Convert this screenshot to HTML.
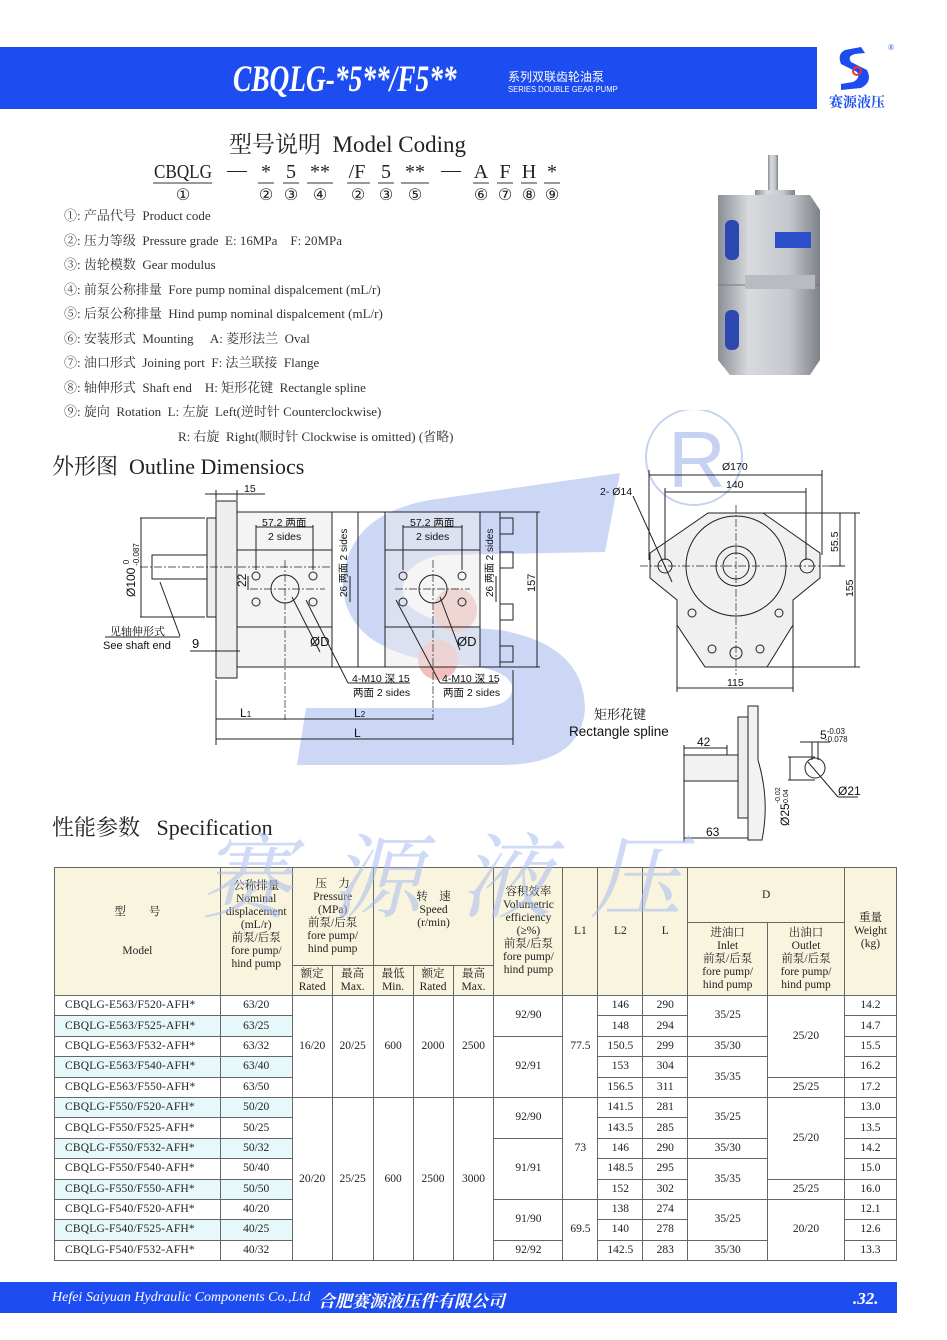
<!DOCTYPE html>
<html><head><meta charset="utf-8">
<style>
*{margin:0;padding:0;box-sizing:border-box}
body{width:947px;height:1340px;background:#fff;position:relative;overflow:hidden;font-family:"Liberation Serif","Noto Serif CJK SC",serif;color:#222}
.abs{position:absolute;white-space:nowrap}
table{position:absolute;left:54px;top:867px;width:843px;border-collapse:collapse;font-size:11.5px;font-family:"Liberation Serif","Noto Serif CJK SC",serif}
td{border:1px solid #666;text-align:center;vertical-align:middle;line-height:13px;padding:0}
thead td{background:#f8f4de;font-size:11.5px}
tbody td{height:20.4px}
tbody tr.c td.m,tbody tr.c td.v{background:#e6f8fa}
td.m{text-align:left;padding-left:10px;letter-spacing:0.2px}
</style></head><body>

<div class="abs" style="left:0;top:47px;width:817px;height:62px;background:#1d4cf0"></div>
<div class="abs" style="left:233px;top:58px;font-size:37px;font-style:italic;font-weight:bold;color:#fff;transform:scaleX(0.74);transform-origin:left;font-family:'Liberation Serif',serif">CBQLG-*5**/F5**</div>
<div class="abs" style="left:508px;top:68px;font-size:12px;color:#fff;font-family:'Liberation Sans','Noto Sans CJK SC',sans-serif">系列双联齿轮油泵</div>
<div class="abs" style="left:508px;top:84px;font-size:8.5px;color:#fff;font-family:'Liberation Sans',sans-serif;transform:scaleX(0.9);transform-origin:left">SERIES DOUBLE GEAR PUMP</div>
<svg class="abs" style="left:817px;top:40px" width="90" height="75">
<path d="M44 7 L28 10 Q20 14 24 24 L40 32 Q44 38 36 42 L24 44 L24 50 L44 48 Q56 42 50 30 L34 22 Q30 16 38 14 L48 13 Z" fill="#1d4cf0"/>
<circle cx="40" cy="31" r="4" fill="none" stroke="#e33" stroke-width="2"/>
<text x="71" y="10" font-size="8" fill="#1d4cf0">®</text>
<text x="12" y="67" font-size="14" fill="#1d4cf0" font-family="'Noto Serif CJK SC',serif" font-weight="bold">赛源液压</text>
</svg>

<div class="abs" style="left:229px;top:126px;font-size:23px">型号说明&nbsp;&nbsp;Model Coding</div>
<svg class="abs" style="left:0;top:150px" width="600" height="55" font-family="'Liberation Serif',serif" font-size="20" text-anchor="middle" fill="#222">
<g>
<text x="183" y="28" textLength="58" lengthAdjust="spacingAndGlyphs">CBQLG</text><text x="237" y="26">—</text><text x="266" y="28">*</text><text x="291" y="28">5</text><text x="320" y="28">**</text><text x="357" y="28">/F</text><text x="386" y="28">5</text><text x="415" y="28">**</text><text x="451" y="26">—</text><text x="481" y="28">A</text><text x="505" y="28">F</text><text x="529" y="28">H</text><text x="552" y="28">*</text>
</g>
<g stroke="#333" stroke-width="1">
<line x1="153" y1="33" x2="212" y2="33"/><line x1="258" y1="33" x2="274" y2="33"/><line x1="283" y1="33" x2="299" y2="33"/><line x1="307" y1="33" x2="333" y2="33"/><line x1="347" y1="33" x2="370" y2="33"/><line x1="378" y1="33" x2="394" y2="33"/><line x1="401" y1="33" x2="429" y2="33"/><line x1="473" y1="33" x2="489" y2="33"/><line x1="497" y1="33" x2="513" y2="33"/><line x1="521" y1="33" x2="537" y2="33"/><line x1="544" y1="33" x2="560" y2="33"/>
</g>
<g font-size="16"><text x="183" y="50">①</text><text x="266" y="50">②</text><text x="291" y="50">③</text><text x="320" y="50">④</text><text x="358" y="50">②</text><text x="386" y="50">③</text><text x="415" y="50">⑤</text><text x="481" y="50">⑥</text><text x="505" y="50">⑦</text><text x="529" y="50">⑧</text><text x="552" y="50">⑨</text></g>
</svg>
<div style="position:absolute;left:64px;top:204px;font-size:13px;line-height:24.5px;color:#333">
<div>①:&nbsp;产品代号&nbsp;&nbsp;Product code</div>
<div>②:&nbsp;压力等级&nbsp;&nbsp;Pressure grade&nbsp;&nbsp;E: 16MPa&nbsp;&nbsp;&nbsp;&nbsp;F: 20MPa</div>
<div>③:&nbsp;齿轮模数&nbsp;&nbsp;Gear modulus</div>
<div>④:&nbsp;前泵公称排量&nbsp;&nbsp;Fore pump nominal dispalcement (mL/r)</div>
<div>⑤:&nbsp;后泵公称排量&nbsp;&nbsp;Hind pump nominal dispalcement (mL/r)</div>
<div>⑥:&nbsp;安装形式&nbsp;&nbsp;Mounting&nbsp;&nbsp;&nbsp;&nbsp;&nbsp;A:&nbsp;菱形法兰&nbsp;&nbsp;Oval</div>
<div>⑦:&nbsp;油口形式&nbsp;&nbsp;Joining port&nbsp;&nbsp;F:&nbsp;法兰联接&nbsp;&nbsp;Flange</div>
<div>⑧:&nbsp;轴伸形式&nbsp;&nbsp;Shaft end&nbsp;&nbsp;&nbsp;&nbsp;H:&nbsp;矩形花键&nbsp;&nbsp;Rectangle spline</div>
<div>⑨:&nbsp;旋向&nbsp;&nbsp;Rotation&nbsp;&nbsp;L:&nbsp;左旋&nbsp;&nbsp;Left(逆时针 Counterclockwise)</div>
<div style="padding-left:114px">R:&nbsp;右旋&nbsp;&nbsp;Right(顺时针 Clockwise is omitted) (省略)</div>
</div>

<svg class="abs" style="left:700px;top:150px" width="140" height="240">
<defs><linearGradient id="g1" x1="0" x2="1"><stop offset="0" stop-color="#8a8f96"/><stop offset="0.3" stop-color="#d8dade"/><stop offset="0.7" stop-color="#c4c7cc"/><stop offset="1" stop-color="#7d8288"/></linearGradient></defs>
<rect x="68" y="5" width="10" height="40" fill="url(#g1)"/>
<rect x="55" y="40" width="40" height="12" fill="url(#g1)"/>
<path d="M18 45 L110 45 L120 60 L120 210 L110 225 L30 225 L18 210 Z" fill="url(#g1)"/>
<rect x="25" y="70" width="14" height="40" rx="6" fill="#2c48b0"/>
<rect x="25" y="160" width="14" height="40" rx="6" fill="#2c48b0"/>
<rect x="75" y="82" width="36" height="16" fill="#2a4fc8"/>
<line x1="18" y1="135" x2="120" y2="135" stroke="#777"/>
<rect x="45" y="125" width="70" height="14" fill="#b8bbc0"/>
</svg>

<svg class="abs" style="left:640px;top:410px" width="110" height="100"><circle cx="54" cy="47" r="48" fill="none" stroke="#c7d2f2" stroke-width="2"/><text x="28" y="77" font-size="80" fill="#c7d2f2" font-family="'Liberation Sans',sans-serif">R</text></svg>

<div class="abs" style="left:52px;top:450px;font-size:22px">外形图&nbsp;&nbsp;Outline Dimensiocs</div>

<svg class="abs" style="left:0;top:0" width="947" height="1340">
<path d="M620 473 L605 552 L440 555 Q395 565 405 600 Q420 625 500 630 Q585 645 585 710 Q580 765 500 765 L297 765 L306 708 L480 708 Q515 705 512 685 Q505 668 460 665 Q345 655 343 585 Q345 515 430 500 Z" fill="#c3d0f5" opacity="0.85"/>
<g fill="#f3b3b3" opacity="0.85"><circle cx="455" cy="610" r="22"/><circle cx="438" cy="660" r="20"/></g>
</svg>

<svg class="abs" style="left:0;top:0" width="947" height="1340" font-family="'Liberation Sans','Noto Sans CJK SC',sans-serif" font-size="10.5" fill="#111">
<g stroke="#222" stroke-width="1" fill="none">
<rect x="216" y="501" width="21" height="177" fill="#eee"/>
<rect x="207" y="518" width="9" height="99" fill="#eee"/>
<rect x="152" y="555" width="55" height="24" fill="#fff"/>
<rect x="237" y="512" width="95" height="155" fill="#ececec" fill-opacity="0.6"/>
<line x1="237" y1="550" x2="332" y2="550"/><line x1="237" y1="627" x2="332" y2="627"/>
<rect x="332" y="512" width="26" height="155"/><rect x="358" y="512" width="27" height="155"/>
<rect x="385" y="512" width="95" height="155" fill="#ececec" fill-opacity="0.5"/>
<line x1="385" y1="550" x2="480" y2="550"/><line x1="385" y1="627" x2="480" y2="627"/>
<rect x="480" y="512" width="20" height="155"/>
<rect x="500" y="518" width="13" height="16"/><rect x="500" y="552" width="13" height="16"/><rect x="500" y="604" width="13" height="16"/><rect x="500" y="646" width="13" height="16"/>
<circle cx="285" cy="589" r="14"/><circle cx="433" cy="589" r="14"/>
<circle cx="256" cy="576" r="4"/><circle cx="313" cy="576" r="4"/><circle cx="256" cy="602" r="4"/><circle cx="313" cy="602" r="4"/>
<circle cx="403" cy="576" r="4"/><circle cx="462" cy="576" r="4"/><circle cx="403" cy="602" r="4"/><circle cx="462" cy="602" r="4"/>
<g stroke-dasharray="8 2 2 2" stroke-width="0.7"><line x1="140" y1="567" x2="330" y2="567"/><line x1="285" y1="560" x2="285" y2="720"/><line x1="433" y1="560" x2="433" y2="720"/><line x1="250" y1="589" x2="325" y2="589"/><line x1="395" y1="589" x2="470" y2="589"/></g>
<line x1="256" y1="525" x2="256" y2="570"/><line x1="313" y1="525" x2="313" y2="570"/><line x1="256" y1="527" x2="313" y2="527"/>
<line x1="403" y1="525" x2="403" y2="570"/><line x1="462" y1="525" x2="462" y2="570"/><line x1="403" y1="527" x2="462" y2="527"/>
<line x1="140" y1="518" x2="205" y2="518"/><line x1="140" y1="617" x2="205" y2="617"/><line x1="141" y1="518" x2="141" y2="617"/>
<line x1="216" y1="490" x2="216" y2="500"/><line x1="237" y1="490" x2="237" y2="500"/><line x1="205" y1="494" x2="265" y2="494"/>
<line x1="190" y1="651" x2="240" y2="651"/>
<line x1="216" y1="680" x2="216" y2="745"/><line x1="513" y1="670" x2="513" y2="745"/>
<line x1="216" y1="719" x2="285" y2="719"/><line x1="285" y1="719" x2="433" y2="719"/><line x1="216" y1="739" x2="513" y2="739"/>
<line x1="537" y1="512" x2="537" y2="667"/><line x1="500" y1="512" x2="540" y2="512"/><line x1="500" y1="667" x2="540" y2="667"/>
<line x1="292" y1="597" x2="320" y2="652"/><line x1="306" y1="600" x2="348" y2="683"/><line x1="348" y1="683" x2="410" y2="683"/>
<line x1="440" y1="597" x2="460" y2="650"/><line x1="396" y1="600" x2="440" y2="683"/><line x1="440" y1="683" x2="498" y2="683"/>
<line x1="160" y1="582" x2="180" y2="636"/><line x1="105" y1="637" x2="180" y2="637"/>
<line x1="248" y1="576" x2="248" y2="590"/><line x1="350" y1="576" x2="350" y2="602"/><line x1="496" y1="576" x2="496" y2="602"/>
</g>
<text x="244" y="492">15</text>
<text x="262" y="526">57.2 两面</text><text x="268" y="540">2 sides</text>
<text x="410" y="526">57.2 两面</text><text x="416" y="540">2 sides</text>
<text transform="translate(135,597) rotate(-90)" font-size="12">Ø100 <tspan font-size="8" dy="-6">0</tspan><tspan font-size="8" dx="-6" dy="10">-0.087</tspan></text>
<text transform="translate(246,587) rotate(-90)" font-size="12">22</text>
<text transform="translate(347,597) rotate(-90)" font-size="10">26 两面 2 sides</text>
<text transform="translate(493,597) rotate(-90)" font-size="10">26 两面 2 sides</text>
<text transform="translate(535,592) rotate(-90)" font-size="11">157</text>
<text x="110" y="635" font-size="11" font-family="'Liberation Serif','Noto Serif CJK SC',serif">见轴伸形式</text>
<text x="103" y="649" font-size="11">See shaft end</text>
<text x="192" y="648" font-size="13">9</text>
<text x="310" y="646" font-size="13">ØD</text><text x="457" y="646" font-size="13">ØD</text>
<text x="352" y="682">4-M10 深 15</text><text x="353" y="696">两面 2 sides</text>
<text x="442" y="682">4-M10 深 15</text><text x="443" y="696">两面 2 sides</text>
<text x="240" y="717" font-size="12">L<tspan font-size="8">1</tspan></text><text x="354" y="717" font-size="12">L<tspan font-size="8">2</tspan></text><text x="354" y="737" font-size="12">L</text>

<g stroke="#222" stroke-width="1" fill="none">
<path d="M708 513 L763 513 L820 553 L820 578 L793 600 L793 625 L767 667 L705 667 L677 625 L677 600 L650 578 L650 553 Z" fill="#f0f0f0"/>
<circle cx="736" cy="566" r="50"/><circle cx="736" cy="566" r="20"/><circle cx="736" cy="566" r="13"/>
<circle cx="665" cy="566" r="7"/><circle cx="807" cy="566" r="7"/>
<circle cx="692" cy="613" r="4"/><circle cx="779" cy="613" r="4"/><circle cx="712" cy="649" r="4"/><circle cx="760" cy="649" r="4"/><circle cx="736" cy="653" r="6"/>
<g stroke-dasharray="8 2 2 2" stroke-width="0.7"><line x1="640" y1="566" x2="835" y2="566"/><line x1="736" y1="505" x2="736" y2="675"/></g>
<line x1="649" y1="470" x2="649" y2="560"/><line x1="822" y1="470" x2="822" y2="555"/><line x1="649" y1="475" x2="822" y2="475"/>
<line x1="665" y1="488" x2="665" y2="560"/><line x1="806" y1="488" x2="806" y2="560"/><line x1="665" y1="492" x2="806" y2="492"/>
<line x1="763" y1="513" x2="860" y2="513"/><line x1="830" y1="566" x2="845" y2="566"/><line x1="840" y1="513" x2="840" y2="566"/>
<line x1="767" y1="667" x2="860" y2="667"/><line x1="855" y1="513" x2="855" y2="667"/>
<line x1="677" y1="625" x2="677" y2="692"/><line x1="793" y1="625" x2="793" y2="692"/><line x1="677" y1="688" x2="793" y2="688"/>
<line x1="633" y1="496" x2="672" y2="582"/>
</g>
<text x="722" y="470">Ø170</text><text x="726" y="488">140</text><text x="600" y="495">2- Ø14</text>
<text transform="translate(838,552) rotate(-90)">55.5</text><text transform="translate(853,597) rotate(-90)">155</text>
<text x="727" y="686">115</text>

<g stroke="#222" stroke-width="1" fill="none">
<rect x="684" y="755" width="54" height="26" fill="#f2f2f2"/>
<rect x="738" y="717" width="10" height="101" fill="#eee"/>
<path d="M748 706 L758 706 L758 760 Q770 800 762 840 L748 840 Z" fill="#f2f2f2"/>
<line x1="684" y1="745" x2="684" y2="842"/><line x1="727" y1="745" x2="727" y2="755"/><line x1="684" y1="748" x2="727" y2="748"/><line x1="684" y1="838" x2="748" y2="838"/>
<circle cx="815" cy="768" r="10"/>
<line x1="788" y1="757" x2="815" y2="757"/><line x1="788" y1="780" x2="815" y2="780"/><line x1="790" y1="757" x2="790" y2="780"/>
<line x1="800" y1="742" x2="830" y2="742"/><line x1="812" y1="742" x2="812" y2="760"/><line x1="818" y1="742" x2="818" y2="760"/>
<line x1="808" y1="762" x2="838" y2="797"/><line x1="838" y1="797" x2="858" y2="797"/>
</g>
<text x="594" y="719" font-size="13" font-family="'Liberation Serif','Noto Serif CJK SC',serif">矩形花键</text>
<text x="569" y="736" font-size="13.5">Rectangle spline</text>
<text x="697" y="746" font-size="12">42</text><text x="706" y="836" font-size="12">63</text>
<text x="820" y="739" font-size="12">5<tspan font-size="8" dy="-5">-0.03</tspan><tspan font-size="8" dx="-20" dy="8">-0.078</tspan></text>
<text x="838" y="795" font-size="12">Ø21</text>
<text transform="translate(789,826) rotate(-90)" font-size="12">Ø25<tspan font-size="7" dy="-9">-0.02</tspan><tspan font-size="7" dx="-18" dy="8">-0.04</tspan></text>
</svg>

<div class="abs" style="left:52px;top:811px;font-size:22px">性能参数&nbsp;&nbsp;&nbsp;Specification</div>

<table>
<colgroup><col style="width:166px"><col style="width:72px"><col style="width:40px"><col style="width:41px"><col style="width:40px"><col style="width:40px"><col style="width:41px"><col style="width:69px"><col style="width:35px"><col style="width:45px"><col style="width:45px"><col style="width:80px"><col style="width:77px"><col style="width:52px"></colgroup>
<thead>
<tr style="height:55px"><td rowspan="3">型&nbsp;&nbsp;&nbsp;&nbsp;&nbsp;&nbsp;&nbsp;&nbsp;号<br><br><br>Model</td><td rowspan="3">公称排量<br>Nominal<br>displacement<br>(mL/r)<br>前泵/后泵<br>fore pump/<br>hind pump<br><br></td><td colspan="2" rowspan="2">压&nbsp;&nbsp;&nbsp;&nbsp;力<br>Pressure<br>(MPa)<br>前泵/后泵<br>fore pump/<br>hind pump</td><td colspan="3" rowspan="2">转&nbsp;&nbsp;&nbsp;&nbsp;速<br>Speed<br>(r/min)<br><br></td><td rowspan="3">容积效率<br>Volumetric<br>efficiency<br>(≥%)<br>前泵/后泵<br>fore pump/<br>hind pump</td><td rowspan="3">L1</td><td rowspan="3">L2</td><td rowspan="3">L</td><td colspan="2">D</td><td rowspan="3">重量<br>Weight<br>(kg)</td></tr>
<tr style="height:43px"><td rowspan="2">进油口<br>Inlet<br>前泵/后泵<br>fore pump/<br>hind pump</td><td rowspan="2">出油口<br>Outlet<br>前泵/后泵<br>fore pump/<br>hind pump</td></tr>
<tr style="height:30px"><td>额定<br>Rated</td><td>最高<br>Max.</td><td>最低<br>Min.</td><td>额定<br>Rated</td><td>最高<br>Max.</td></tr>
</thead>
<tbody>
<tr><td class="m">CBQLG-E563/F520-AFH*</td><td class="v">63/20</td><td rowspan="5">16/20</td><td rowspan="5">20/25</td><td rowspan="5">600</td><td rowspan="5">2000</td><td rowspan="5">2500</td><td rowspan="2">92/90</td><td rowspan="5">77.5</td><td>146</td><td>290</td><td rowspan="2">35/25</td><td rowspan="4">25/20</td><td>14.2</td></tr>
<tr class="c"><td class="m">CBQLG-E563/F525-AFH*</td><td class="v">63/25</td><td>148</td><td>294</td><td>14.7</td></tr>
<tr><td class="m">CBQLG-E563/F532-AFH*</td><td class="v">63/32</td><td rowspan="3">92/91</td><td>150.5</td><td>299</td><td>35/30</td><td>15.5</td></tr>
<tr class="c"><td class="m">CBQLG-E563/F540-AFH*</td><td class="v">63/40</td><td>153</td><td>304</td><td rowspan="2">35/35</td><td>16.2</td></tr>
<tr><td class="m">CBQLG-E563/F550-AFH*</td><td class="v">63/50</td><td>156.5</td><td>311</td><td>25/25</td><td>17.2</td></tr>
<tr class="c"><td class="m">CBQLG-F550/F520-AFH*</td><td class="v">50/20</td><td rowspan="8">20/20</td><td rowspan="8">25/25</td><td rowspan="8">600</td><td rowspan="8">2500</td><td rowspan="8">3000</td><td rowspan="2">92/90</td><td rowspan="5">73</td><td>141.5</td><td>281</td><td rowspan="2">35/25</td><td rowspan="4">25/20</td><td>13.0</td></tr>
<tr><td class="m">CBQLG-F550/F525-AFH*</td><td class="v">50/25</td><td>143.5</td><td>285</td><td>13.5</td></tr>
<tr class="c"><td class="m">CBQLG-F550/F532-AFH*</td><td class="v">50/32</td><td rowspan="3">91/91</td><td>146</td><td>290</td><td>35/30</td><td>14.2</td></tr>
<tr><td class="m">CBQLG-F550/F540-AFH*</td><td class="v">50/40</td><td>148.5</td><td>295</td><td rowspan="2">35/35</td><td>15.0</td></tr>
<tr class="c"><td class="m">CBQLG-F550/F550-AFH*</td><td class="v">50/50</td><td>152</td><td>302</td><td>25/25</td><td>16.0</td></tr>
<tr><td class="m">CBQLG-F540/F520-AFH*</td><td class="v">40/20</td><td rowspan="2">91/90</td><td rowspan="3">69.5</td><td>138</td><td>274</td><td rowspan="2">35/25</td><td rowspan="3">20/20</td><td>12.1</td></tr>
<tr class="c"><td class="m">CBQLG-F540/F525-AFH*</td><td class="v">40/25</td><td>140</td><td>278</td><td>12.6</td></tr>
<tr><td class="m">CBQLG-F540/F532-AFH*</td><td class="v">40/32</td><td>92/92</td><td>142.5</td><td>283</td><td>35/30</td><td>13.3</td></tr>
</tbody>
</table>

<div class="abs" style="left:200px;top:805px;font-size:92px;color:#a9bdf0;opacity:0.55;font-style:italic;letter-spacing:38px;font-family:'Noto Serif CJK SC',serif">赛源液压</div>

<div class="abs" style="left:0;top:1282px;width:897px;height:31px;background:#1d4cf0"></div>
<div class="abs" style="left:52px;top:1290px;font-size:14px;font-style:italic;color:#fff">Hefei Saiyuan Hydraulic Components Co.,Ltd</div>
<div class="abs" style="left:318px;top:1287px;font-size:17px;font-weight:bold;font-style:italic;color:#fff;font-family:'Noto Serif CJK SC',serif">合肥赛源液压件有限公司</div>
<div class="abs" style="left:853px;top:1289px;font-size:17px;font-weight:bold;font-style:italic;color:#fff">.32.</div>
</body></html>
